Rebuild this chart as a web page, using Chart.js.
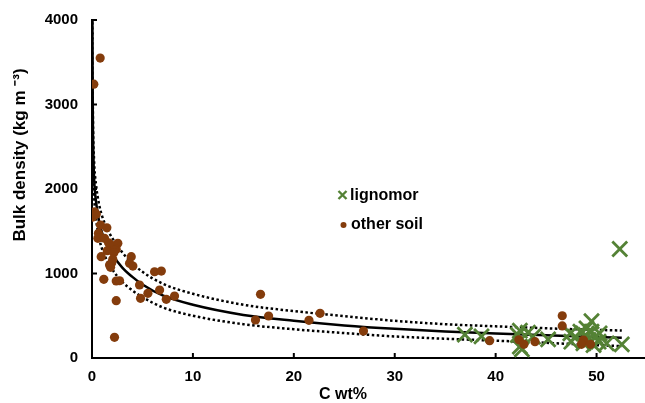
<!DOCTYPE html>
<html>
<head>
<meta charset="utf-8">
<script src="https://cdn.jsdelivr.net/npm/chart.js@4.4.1/dist/chart.umd.min.js"></script>
<style>
  html, body { margin: 0; padding: 0; background: #fff; overflow: hidden; }
  #chart { display: block; }
</style>
</head>
<body>
<canvas id="chart" width="645" height="403"></canvas>
<script>
// ===== DADOS =====
const xTicks = [0, 10, 20, 30, 40, 50];
const yTicks = [0, 1000, 2000, 3000, 4000];

// other soil (C wt%, bulk density)
const soilC = [0.81, 0.18, 0.25, 0.08, 0.42, 0.84, 1.47, 0.64, 0.74, 0.58, 1.24, 1.64, 1.90, 2.56, 2.40, 1.51, 2.23, 2.16, 0.91, 2.06, 1.74, 1.96, 1.84, 3.89, 3.72, 4.05, 6.20, 6.87, 1.17, 2.40, 2.73, 4.71, 5.54, 4.81, 6.70, 7.36, 2.40, 8.18, 2.23,
  16.7, 16.2, 17.5, 21.5, 22.6, 26.9,
  39.4, 42.3, 42.8, 43.9, 46.6, 46.6, 48.7, 48.5, 49.4];
const soilBD = [3550, 3240, 1731, 1668, 1700, 1573, 1541, 1475, 1423, 1416, 1416, 1364, 1337, 1357, 1286, 1270, 1278, 1246, 1199, 1168, 1100, 1127, 1073, 1199, 1120, 1088, 1021, 1029, 931, 911, 914, 864, 765, 706, 804, 694, 678, 733, 245,
  754, 450, 497, 446, 529, 319,
  205, 215, 162, 193, 500, 379, 213, 162, 162];

// lignomor
const ligC = [36.95, 38.6, 42.2, 42.4, 42.6, 42.4, 43.2, 43.7, 45.2, 47.4, 47.5, 47.9, 48.4, 48.7, 48.9, 49.0, 49.2, 49.5, 49.5, 49.7, 49.9, 50.2, 50.3, 51.0, 52.5, 52.3];
const ligBD = [276, 256, 272, 323, 103, 134, 300, 252, 221, 292, 193, 252, 311, 174, 272, 351, 213, 311, 435, 154, 252, 193, 292, 174, 162, 1290];

// curva ajustada e limites
const curveX = [0.02, 0.05, 0.1, 0.2, 0.4, 0.7, 1, 1.5, 2, 3, 4, 5, 7, 10, 15, 20, 25, 30, 35, 40, 45, 50, 52.5];
const fitY   = [4300, 3300, 2600, 2150, 1850, 1620, 1480, 1340, 1230, 1070, 960, 870, 740, 630, 510, 440, 385, 345, 315, 290, 268, 248, 240];
const upperY = [4400, 3500, 2800, 2350, 2050, 1820, 1680, 1530, 1420, 1250, 1120, 1020, 880, 760, 630, 555, 495, 440, 400, 375, 352, 333, 325];
const lowerY = [4200, 3100, 2400, 1950, 1650, 1420, 1290, 1150, 1050, 900, 800, 720, 600, 500, 400, 340, 295, 255, 228, 205, 180, 152, 140];

const BROWN = '#843C0C';
const GREEN = '#548235';
const FONT = '"Liberation Sans", Arial, sans-serif';

function pairs(xs, ys) {
    return xs.map((x, i) => ({ x: x, y: ys[i] }));
}

function lineSet(ys, dashed) {
    return {
        type: 'line',
        data: pairs(curveX, ys),
        borderColor: '#000',
        borderWidth: 2.5,
        borderDash: dashed ? [2.5, 2.5] : [],
        pointRadius: 0,
        fill: false,
        cubicInterpolationMode: 'monotone',
        order: 3
    };
}

// ticks internos, títulos e legenda
const decorPlugin = {
    id: 'decor',
    afterDraw(chart) {
        const ctx = chart.ctx;
        const area = chart.chartArea;
        const xs = chart.scales.x;
        const ys = chart.scales.y;
        ctx.save();
        ctx.strokeStyle = '#000';
        ctx.lineWidth = 2;
        xTicks.forEach(v => {
            if (v === 0) return;
            const px = xs.getPixelForValue(v);
            ctx.beginPath();
            ctx.moveTo(px, area.bottom);
            ctx.lineTo(px, area.bottom - 5);
            ctx.stroke();
        });
        yTicks.forEach(v => {
            if (v === 0) return;
            const py = ys.getPixelForValue(v);
            ctx.beginPath();
            ctx.moveTo(area.left, py);
            ctx.lineTo(area.left + 5, py);
            ctx.stroke();
        });

        // títulos
        ctx.fillStyle = '#000';
        ctx.font = 'bold 16px ' + FONT;
        ctx.textAlign = 'center';
        ctx.textBaseline = 'middle';
        ctx.fillText('C wt%', 343, 395);

        ctx.save();
        ctx.translate(20, 155);
        ctx.rotate(-Math.PI / 2);
        ctx.font = 'bold 17px ' + FONT;
        ctx.fillText('Bulk density (kg m \u207B\u00B3)', 0, 0);
        ctx.restore();

        // legenda
        ctx.strokeStyle = GREEN;
        ctx.lineWidth = 2.4;
        ctx.beginPath();
        ctx.moveTo(338.5, 191); ctx.lineTo(346.5, 199);
        ctx.moveTo(346.5, 191); ctx.lineTo(338.5, 199);
        ctx.stroke();
        ctx.fillStyle = BROWN;
        ctx.beginPath();
        ctx.arc(343.5, 225, 3, 0, Math.PI * 2);
        ctx.fill();
        ctx.fillStyle = '#000';
        ctx.font = 'bold 16px ' + FONT;
        ctx.textAlign = 'left';
        ctx.fillText('lignomor', 350, 196);
        ctx.fillText('other soil', 351, 225);
        ctx.restore();
    }
};

const chart = new Chart(document.getElementById('chart'), {
    type: 'scatter',
    data: {
        datasets: [
            {
                label: 'other soil',
                data: pairs(soilC, soilBD),
                backgroundColor: BROWN,
                borderColor: BROWN,
                borderWidth: 0,
                pointRadius: 4.6,
                order: 1
            },
            {
                label: 'lignomor',
                data: pairs(ligC, ligBD),
                pointStyle: 'crossRot',
                borderColor: GREEN,
                backgroundColor: GREEN,
                borderWidth: 2.8,
                pointRadius: 10.5,
                order: 2
            },
            lineSet(fitY, false),
            lineSet(upperY, true),
            lineSet(lowerY, true)
        ]
    },
    options: {
        responsive: false,
        animation: false,
        devicePixelRatio: 1,
        layout: { autoPadding: false, padding: { top: 20, left: 0, right: 0, bottom: 0 } },
        plugins: {
            legend: { display: false },
            tooltip: { enabled: false }
        },
        scales: {
            x: {
                type: 'linear',
                min: 0,
                max: 54.8,
                grid: { display: false, drawTicks: false },
                border: { color: '#000', width: 2 },
                ticks: {
                    padding: 10,
                    color: '#000',
                    font: { family: FONT, size: 15, weight: 'bold' },
                    callback: v => String(v)
                },
                afterBuildTicks: s => { s.ticks = xTicks.map(v => ({ value: v })); },
                afterFit: s => { s.height = 45; s.paddingRight = 0; s.paddingLeft = 0; }
            },
            y: {
                min: 0,
                max: 4000,
                grid: { display: false, drawTicks: false },
                border: { color: '#000', width: 2 },
                ticks: {
                    padding: 14,
                    color: '#000',
                    font: { family: FONT, size: 15, weight: 'bold' },
                    callback: v => String(v)
                },
                afterBuildTicks: s => { s.ticks = yTicks.map(v => ({ value: v })); },
                afterFit: s => { s.width = 92; s.paddingTop = 0; s.paddingBottom = 0; }
            }
        }
    },
    plugins: [decorPlugin]
});
</script>
</body>
</html>
